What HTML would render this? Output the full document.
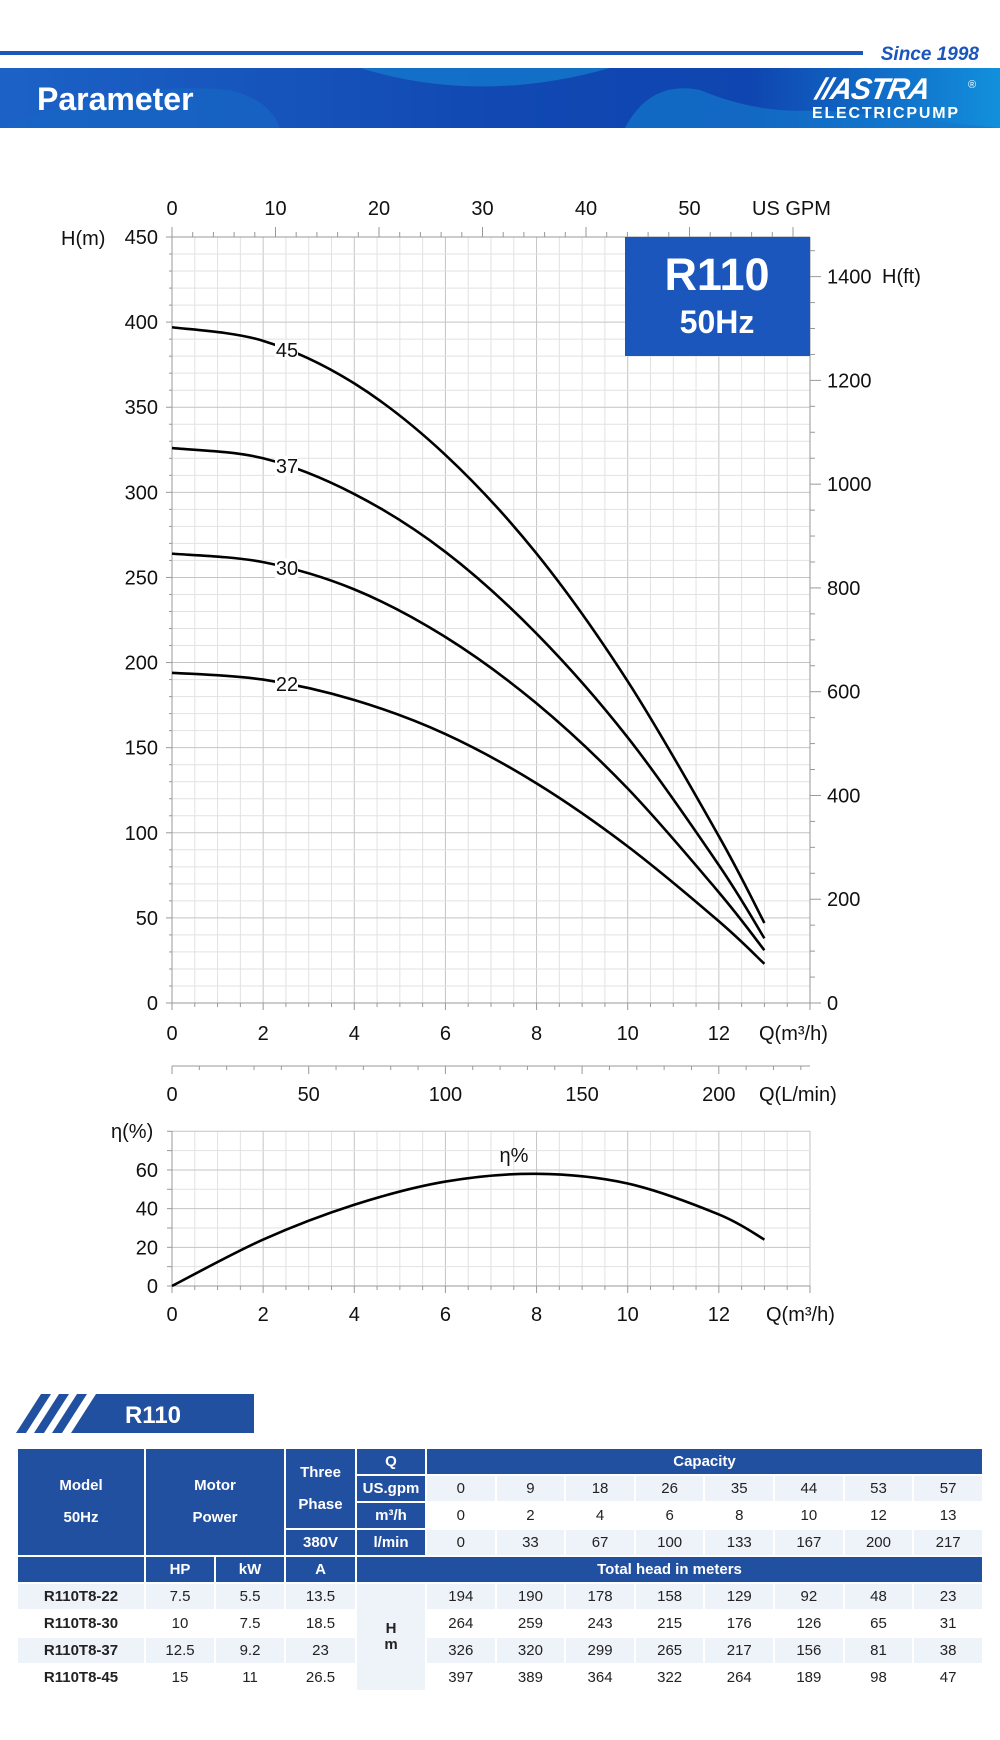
<!DOCTYPE html>
<html><head><meta charset="utf-8">
<style>
html,body{margin:0;padding:0;background:#fff;}
body{width:1000px;height:1740px;position:relative;overflow:hidden;font-family:"Liberation Sans",sans-serif;}
#t{position:absolute;left:16px;top:1447px;border-collapse:collapse;table-layout:fixed;width:968px;font-family:"Liberation Sans Narrow","Liberation Sans",sans-serif;font-size:15px;text-align:center;border:2px solid #2250a0;}
#t td{border:2px solid #fff;padding:0;height:25px;line-height:16px;color:#222;}
#t tr.l td{background:#eef3fa;}
#t tr.w td{background:#fff;}
#t tr td.h{background:#2250a0;color:#fff;font-weight:bold;}
#t td.m{font-weight:bold;}
</style></head><body>
<svg id="s" width="1000" height="1440" style="position:absolute;left:0;top:0" xmlns="http://www.w3.org/2000/svg"></svg>
<table id="t">
<colgroup><col style="width:128px"><col style="width:70px"><col style="width:70px"><col style="width:71px"><col style="width:70px"><col><col><col><col><col><col><col><col></colgroup>
<tr><td class="h" rowspan="4">Model<br><br>50Hz</td><td class="h" rowspan="4" colspan="2">Motor<br><br>Power</td><td class="h" rowspan="3">Three<br><br>Phase</td><td class="h">Q</td><td class="h" colspan="8">Capacity</td></tr>
<tr class="l"><td class="h">US.gpm</td><td>0</td><td>9</td><td>18</td><td>26</td><td>35</td><td>44</td><td>53</td><td>57</td></tr>
<tr class="w"><td class="h">m³/h</td><td>0</td><td>2</td><td>4</td><td>6</td><td>8</td><td>10</td><td>12</td><td>13</td></tr>
<tr class="l"><td class="h">380V</td><td class="h">l/min</td><td>0</td><td>33</td><td>67</td><td>100</td><td>133</td><td>167</td><td>200</td><td>217</td></tr>
<tr><td class="h"></td><td class="h">HP</td><td class="h">kW</td><td class="h">A</td><td class="h" colspan="9">Total head in meters</td></tr>
<tr class="l"><td class="m">R110T8-22</td><td>7.5</td><td>5.5</td><td>13.5</td><td rowspan="4" class="m" style="background:#eef3fa">H<br>m</td><td>194</td><td>190</td><td>178</td><td>158</td><td>129</td><td>92</td><td>48</td><td>23</td></tr>
<tr class="w"><td class="m">R110T8-30</td><td>10</td><td>7.5</td><td>18.5</td><td>264</td><td>259</td><td>243</td><td>215</td><td>176</td><td>126</td><td>65</td><td>31</td></tr>
<tr class="l"><td class="m">R110T8-37</td><td>12.5</td><td>9.2</td><td>23</td><td>326</td><td>320</td><td>299</td><td>265</td><td>217</td><td>156</td><td>81</td><td>38</td></tr>
<tr class="w"><td class="m">R110T8-45</td><td>15</td><td>11</td><td>26.5</td><td>397</td><td>389</td><td>364</td><td>322</td><td>264</td><td>189</td><td>98</td><td>47</td></tr>
</table>
<script>
var o='';
function L(x1,y1,x2,y2,c,w){o+='<line x1="'+x1+'" y1="'+y1+'" x2="'+x2+'" y2="'+y2+'" stroke="'+c+'" stroke-width="'+(w||1)+'"/>';}
function T(x,y,s,a,sz,extra){o+='<text x="'+x+'" y="'+y+'" text-anchor="'+(a||'middle')+'" font-size="'+(sz||20)+'" fill="#111" '+(extra||'')+'>'+s+'</text>';}
o+='<defs><linearGradient id="bg" x1="0" x2="1"><stop offset="0" stop-color="#1c62c6"/><stop offset="0.5" stop-color="#1148b2"/><stop offset="0.75" stop-color="#0f45b0"/><stop offset="1" stop-color="#1290dc"/></linearGradient></defs>';
o+='<rect x="0" y="51" width="863" height="4" fill="#1a56bb"/>';
o+='<text x="979" y="60" text-anchor="end" font-size="19" font-weight="bold" font-style="italic" fill="#1a56bb">Since 1998</text>';
o+='<rect x="0" y="68" width="1000" height="60" fill="url(#bg)"/>';
o+='<path d="M360,68 Q480,105 610,68 Z" fill="#1478cc" opacity="0.8"/>';
o+='<path d="M0,128 Q120,80 230,90 Q270,100 280,128 Z" fill="#1766c4" opacity="0.7"/>';
o+='<path d="M625,128 Q650,80 700,90 Q760,115 820,110 L1000,128 Z" fill="#1478cc" opacity="0.7"/>';
o+='<text x="37" y="110" font-size="32" font-weight="bold" fill="#fff">Parameter</text>';
o+='<text x="815" y="99" font-size="30" font-weight="900" font-style="italic" fill="#fff" transform="skewX(-10) translate(17,0)" letter-spacing="-1">//ASTRA</text>';
o+='<text x="968" y="88" font-size="11" fill="#fff">®</text>';
o+='<text x="812" y="118" font-size="16" font-weight="bold" fill="#fff" textLength="146">ELECTRICPUMP</text>';
var X=function(q){return 172+q*45.57;}, Y=function(h){return 1003-h*1.7022;};
for(var q=0;q<=14.01;q+=0.5){var mj=Math.abs(q%2)<0.01;L(X(q),237,X(q),1003,mj?'#c4c4c4':'#e2e2e2');L(X(q),1003,X(q),1003+(mj?7:4),'#999');}
for(var h=0;h<=450;h+=10){var mj=h%50==0;L(172,Y(h),810,Y(h),mj?'#c4c4c4':'#e2e2e2');L(172-(mj?6:3),Y(h),172,Y(h),'#999');}
L(172,237,810,237,'#999');L(172,237,172,1003,'#999');L(810,237,810,1003,'#999');L(172,1003,810,1003,'#999');
for(var g=0;g<=61;g+=2){var x=172+g*10.35;L(x,237,x,237-(g%10==0?10:5),'#999');}
for(var f=0;f<=1450;f+=50){var y=1003-f*0.51884;L(810,y,810+(f%200==0?11:5),y,'#999');}
o+='<rect x="625" y="237" width="185" height="119" fill="#1a56bb"/>';
o+='<text x="717" y="290" text-anchor="middle" font-size="45" font-weight="bold" fill="#fff">R110</text>';
o+='<text x="717" y="333" text-anchor="middle" font-size="32" font-weight="bold" fill="#fff">50Hz</text>';
for(var g=0;g<=50;g+=10)T(172+g*10.35,215,g);
T(752,215,'US GPM','start');
for(var h=0;h<=450;h+=50)T(158,Y(h)+7,h,'end');
T(61,245,'H(m)','start');
for(var f=0;f<=1400;f+=200)T(827,1003-f*0.51884+7,f,'start');
T(882,283,'H(ft)','start');
for(var q=0;q<=12;q+=2)T(X(q),1040,q);
T(759,1040,'Q(m³/h)','start');
L(172,1066,810,1066,'#999');
for(var l=0;l<=230;l+=10){var x=172+l*2.734;if(x>810)break;L(x,1066,x,1066+(l%50==0?8:4),'#999');}
for(var l=0;l<=200;l+=50)T(172+l*2.734,1101,l);
T(759,1101,'Q(L/min)','start');
function curve(pts,fx,fy){var p=pts.map(function(a){return [fx(a[0]),fy(a[1])];});var d='M'+p[0][0]+','+p[0][1];
for(var i=0;i<p.length-1;i++){var p0=p[i-1]||p[i],p1=p[i],p2=p[i+1],p3=p[i+2]||p2;
d+=' C'+(p1[0]+(p2[0]-p0[0])/6)+','+(p1[1]+(p2[1]-p0[1])/6)+' '+(p2[0]-(p3[0]-p1[0])/6)+','+(p2[1]-(p3[1]-p1[1])/6)+' '+p2[0]+','+p2[1];}
o+='<path d="'+d+'" fill="none" stroke="#000" stroke-width="2.6"/>';}
var Qs=[0,2,4,6,8,10,12,13];
var data={22:[194,190,178,158,129,92,48,23],30:[264,259,243,215,176,126,65,31],37:[326,320,299,265,217,156,81,38],45:[397,389,364,322,264,189,98,47]};
for(var k in data){var hs=data[k];curve(Qs.map(function(q,i){return [q,hs[i]];}),X,Y);
var h25=hs[1]-(hs[1]-hs[2])*0.22;var y=Y(h25);o+='<rect x="275" y="'+(y-10)+'" width="23" height="20" fill="#fff"/>';T(287,y+7,k);}
var E=function(e){return 1286-e*1.934;};
for(var q=0;q<=14.01;q+=0.5){var mj=Math.abs(q%2)<0.01;L(X(q),1131,X(q),1286,mj?'#c4c4c4':'#e2e2e2');L(X(q),1286,X(q),1286+(mj?7:4),'#999');}
for(var e=0;e<=80;e+=10){L(172,E(e),810,E(e),e%20==0?'#c4c4c4':'#e2e2e2');L(167,E(e),172,E(e),'#999');}
L(172,1131,172,1286,'#999');L(172,1286,810,1286,'#999');
for(var e=0;e<=60;e+=20)T(158,E(e)+7,e,'end');
T(111,1138,'η(%)','start');
for(var q=0;q<=12;q+=2)T(X(q),1321,q);
T(766,1321,'Q(m³/h)','start');
curve([[0,0],[2,24],[4,42],[6,54],[8,58],[10,53],[12,37],[13,24]],X,E);
T(514,1162,'η%');
o+='<polygon points="41,1394 51,1394 26,1433 16,1433" fill="#2250a0"/>';
o+='<polygon points="59,1394 69,1394 44,1433 34,1433" fill="#2250a0"/>';
o+='<polygon points="77,1394 87,1394 62,1433 52,1433" fill="#2250a0"/>';
o+='<polygon points="96,1394 254,1394 254,1433 71,1433" fill="#2250a0"/>';
o+='<text x="153" y="1423" text-anchor="middle" font-size="24" font-weight="bold" fill="#fff">R110</text>';
document.getElementById('s').innerHTML=o;
</script>
</body></html>
